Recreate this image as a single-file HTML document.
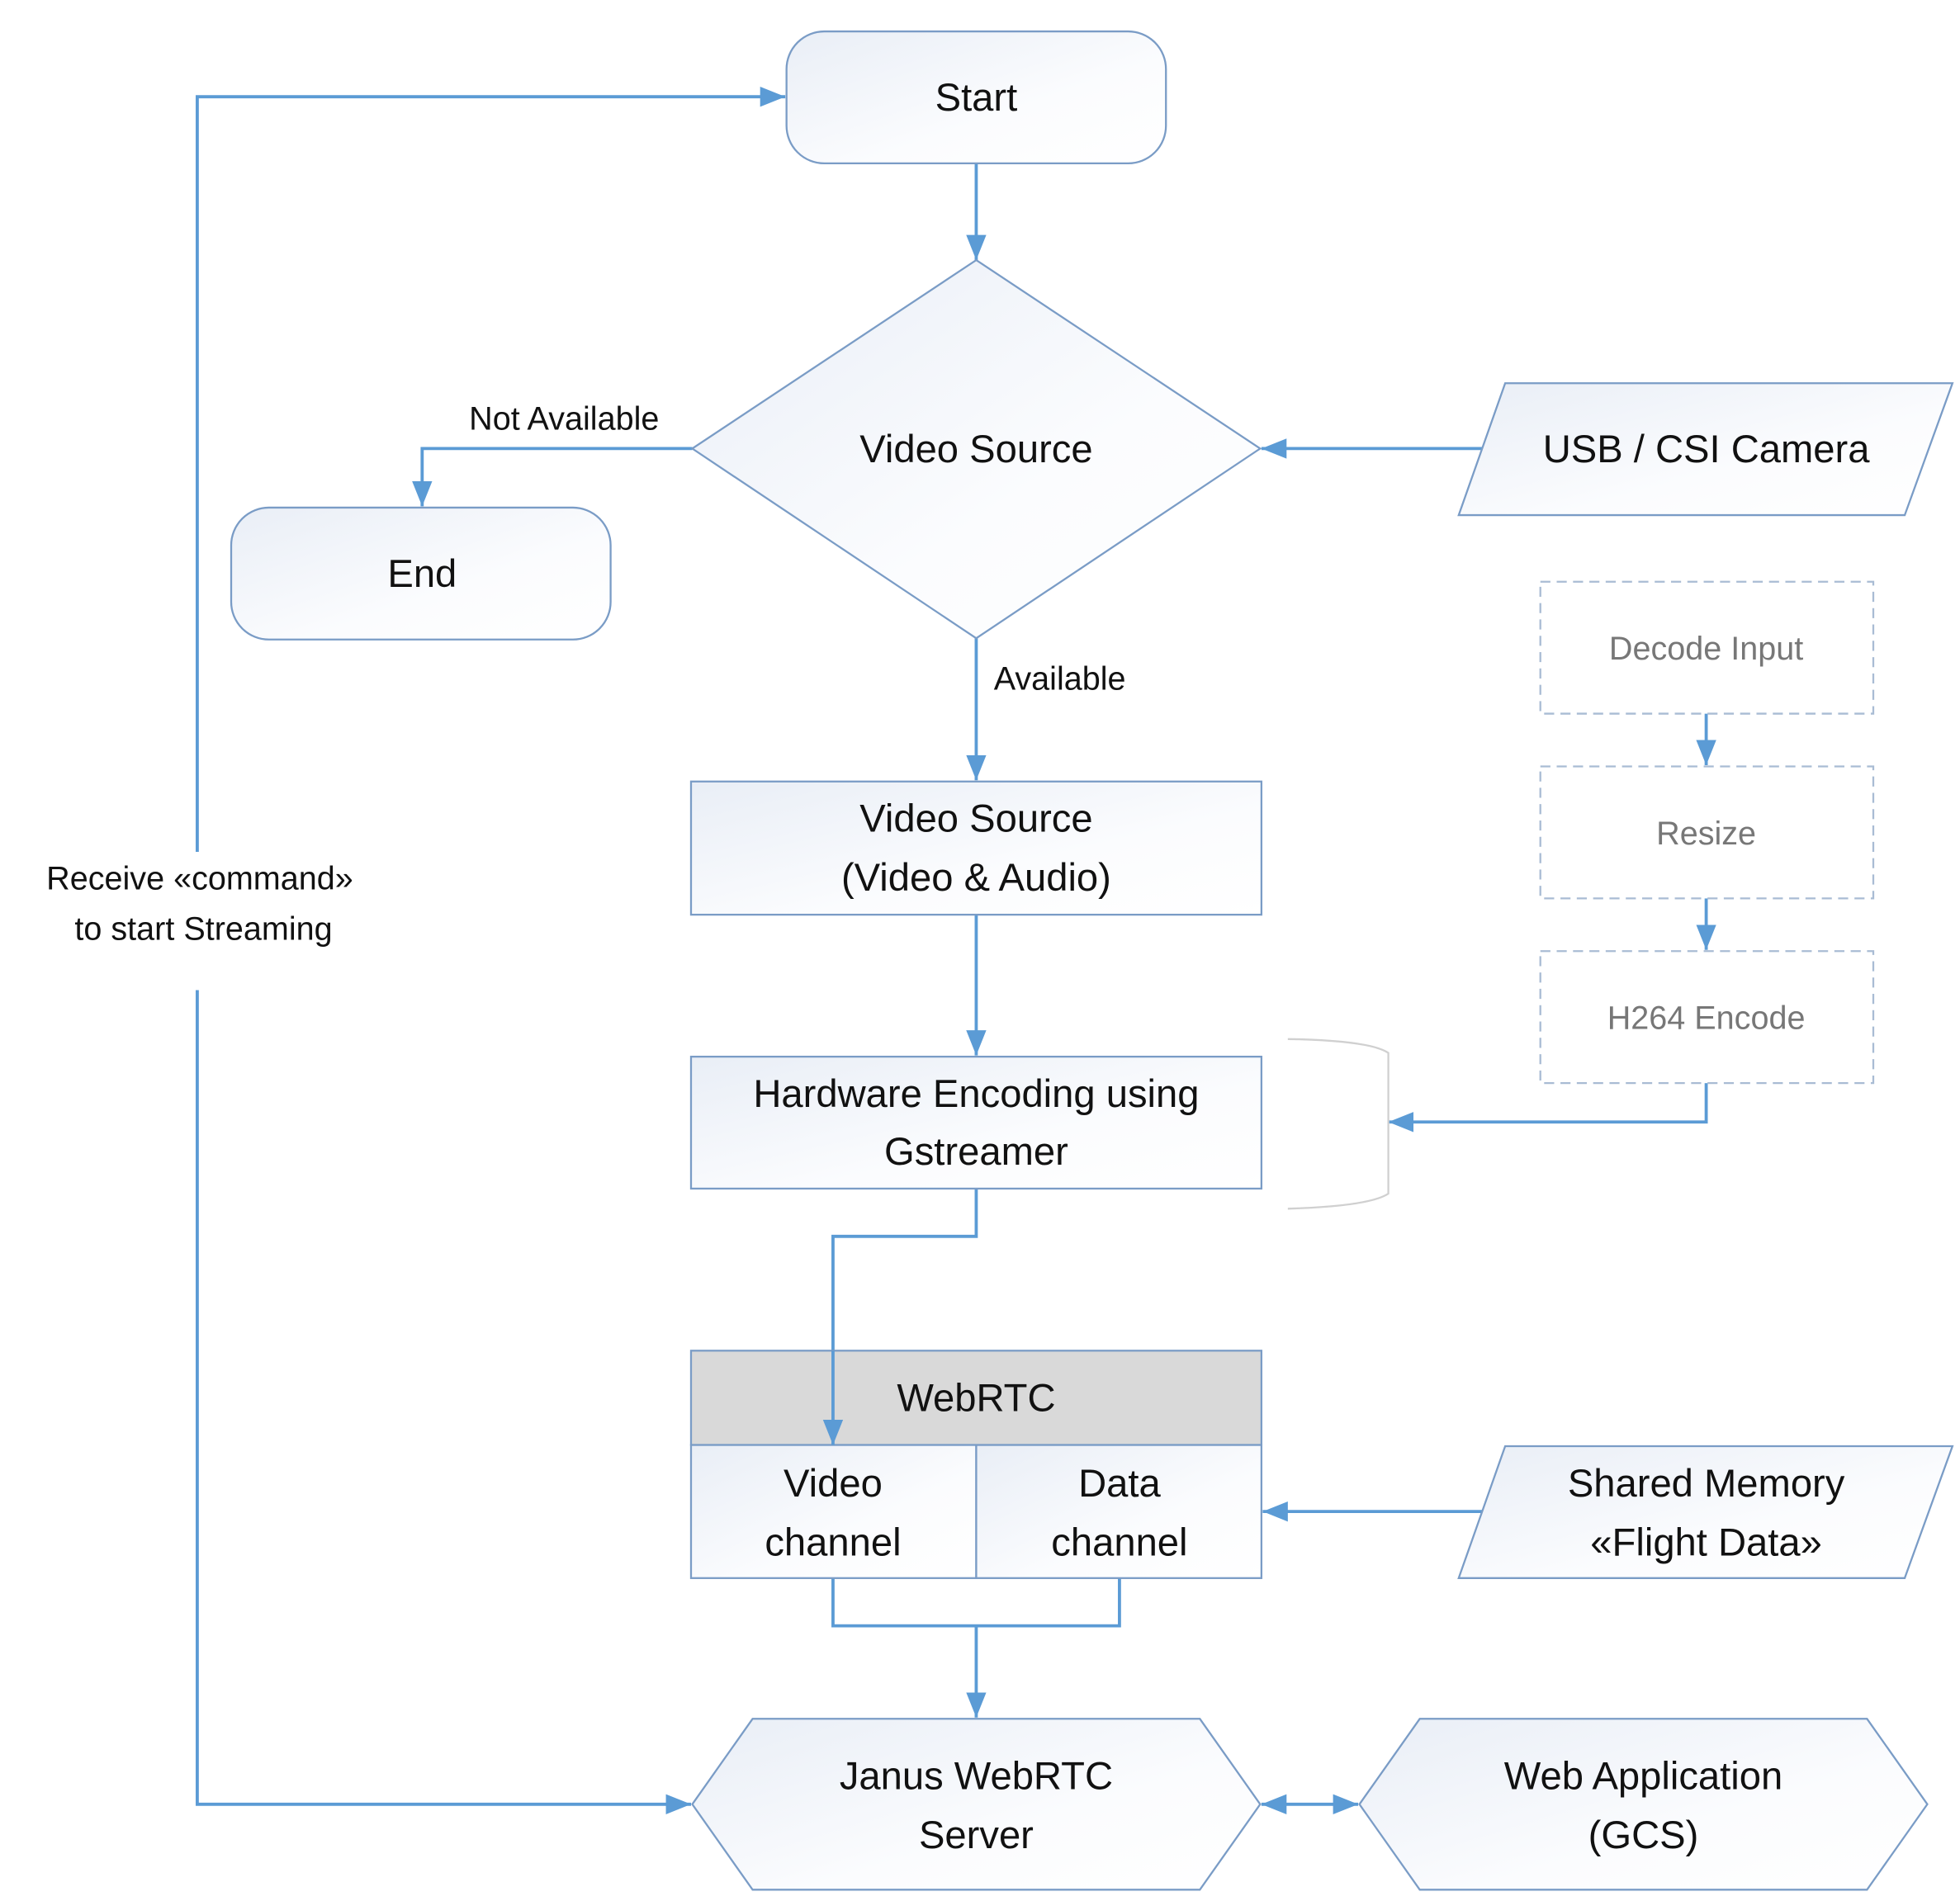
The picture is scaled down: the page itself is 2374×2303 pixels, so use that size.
<!DOCTYPE html>
<html><head><meta charset="utf-8"><style>
html,body{margin:0;padding:0;background:#fff}
svg{display:block}
text{font-family:"Liberation Sans","DejaVu Sans",sans-serif;fill:#111}
</style></head><body>
<svg width="2374" height="2303" viewBox="0 0 1560 1513" preserveAspectRatio="none" xmlns="http://www.w3.org/2000/svg">
<defs>
<linearGradient id="g" x1="0" y1="0" x2="1" y2="1"><stop offset="0" stop-color="#e9eef6"/><stop offset="0.6" stop-color="#fbfcfe"/><stop offset="1" stop-color="#ffffff"/></linearGradient>
<marker id="b" viewBox="0 0 10 10" refX="10" refY="5" markerWidth="20" markerHeight="20" orient="auto-start-reverse" markerUnits="userSpaceOnUse"><path d="M0,1 L10,5 L0,9 z" fill="#5b9bd5"/></marker>
</defs>
<g fill="none" stroke="#5b9bd5" stroke-width="2.5">
<polyline points="157,678 157,77 625,77" marker-end="url(#b)"/>
<polyline points="157,788 157,1436 550,1436" marker-end="url(#b)"/>
<line x1="777" y1="130" x2="777" y2="207" marker-end="url(#b)"/>
<polyline points="551,357 336,357 336,403" marker-end="url(#b)"/>
<line x1="1180" y1="357" x2="1004" y2="357" marker-end="url(#b)"/>
<line x1="777" y1="508" x2="777" y2="621" marker-end="url(#b)"/>
<line x1="777" y1="728" x2="777" y2="840" marker-end="url(#b)"/>
<polyline points="777,946 777,984 663,984 663,1150" marker-end="url(#b)"/>
<line x1="1358" y1="568" x2="1358" y2="609" marker-end="url(#b)"/>
<line x1="1358" y1="715" x2="1358" y2="756" marker-end="url(#b)"/>
<polyline points="1358,862 1358,893 1105,893" marker-end="url(#b)"/>
<line x1="1180" y1="1203" x2="1005" y2="1203" marker-end="url(#b)"/>
<polyline points="663,1256 663,1294 891,1294 891,1256"/>
<line x1="777" y1="1294" x2="777" y2="1367" marker-end="url(#b)"/>
<line x1="1004" y1="1436" x2="1081" y2="1436" marker-start="url(#b)" marker-end="url(#b)"/>
</g>
<g stroke="#7a9cc6" stroke-width="1.5" fill="url(#g)">
<rect x="626" y="25" width="302" height="105" rx="30"/>
<rect x="184" y="404" width="302" height="105" rx="30"/>
<polygon points="777,207 1003,357 777,508 551,357"/>
<polygon points="1198,305 1554,305 1516,410 1161,410"/>
<rect x="550" y="622" width="454" height="106"/>
<rect x="550" y="841" width="454" height="105"/>
<polygon points="1198,1151 1554,1151 1516,1256 1161,1256"/>
<polygon points="599,1368 955,1368 1003,1436 955,1504 599,1504 551,1436"/>
<polygon points="1130,1368 1486,1368 1534,1436 1486,1504 1130,1504 1082,1436"/>
<rect x="550" y="1150" width="227" height="106"/>
<rect x="777" y="1150" width="227" height="106"/>
</g>
<rect x="550" y="1075" width="454" height="75" fill="#d9d9d9" stroke="#7a9cc6" stroke-width="1.5"/>
<line x1="663" y1="1075" x2="663" y2="1150" stroke="#5b9bd5" stroke-width="2.5" marker-end="url(#b)"/>
<path d="M1025,827 Q1090,828 1105,838 L1105,950 Q1090,960 1025,962" fill="none" stroke="#d0d0d0" stroke-width="1.5"/>
<g fill="#fff" stroke="#a9bcd4" stroke-width="1.5" stroke-dasharray="8,5">
<rect x="1226" y="463" width="265" height="105"/>
<rect x="1226" y="610" width="265" height="105"/>
<rect x="1226" y="757" width="265" height="105"/>
</g>
<g font-size="31" text-anchor="middle">
<text x="777" y="88">Start</text>
<text x="336" y="467">End</text>
<text x="777" y="368">Video Source</text>
<text x="1358" y="368">USB / CSI Camera</text>
<text x="777" y="662">Video Source</text>
<text x="777" y="709">(Video &amp; Audio)</text>
<text x="777" y="881">Hardware Encoding using</text>
<text x="777" y="927">Gstreamer</text>
<text x="777" y="1123">WebRTC</text>
<text x="663" y="1191">Video</text>
<text x="663" y="1238">channel</text>
<text x="891" y="1191">Data</text>
<text x="891" y="1238">channel</text>
<text x="1358" y="1191">Shared Memory</text>
<text x="1358" y="1238">«Flight Data»</text>
<text x="777" y="1424">Janus WebRTC</text>
<text x="777" y="1471">Server</text>
<text x="1308" y="1424">Web Application</text>
<text x="1308" y="1471">(GCS)</text>
</g>
<g font-size="26" text-anchor="middle">
<text x="1358" y="525" style="fill:#777">Decode Input</text>
<text x="1358" y="672" style="fill:#777">Resize</text>
<text x="1358" y="819" style="fill:#777">H264 Encode</text>
</g>
<g font-size="26">
<text x="449" y="342" text-anchor="middle">Not Available</text>
<text x="791" y="549">Available</text>
<rect x="10" y="678" width="300" height="110" fill="#fff"/>
<text x="159" y="708" text-anchor="middle">Receive «command»</text>
<text x="162" y="748" text-anchor="middle">to start Streaming</text>
</g>
</svg>
</body></html>
